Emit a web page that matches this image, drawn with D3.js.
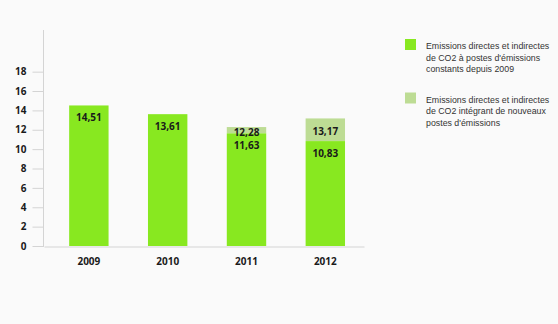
<!DOCTYPE html>
<html><head><meta charset="utf-8">
<script src="https://cdn.jsdelivr.net/npm/d3@7/dist/d3.min.js"></script>
<style>body{margin:0;background:#fafafa}svg{display:block}</style>
</head><body><svg id="c" width="558" height="324"></svg>
<script>
const years = ["2009","2010","2011","2012"];
const constantValues = [14.51, 13.61, 11.63, 10.83];
const totalValues = [null, null, 12.28, 13.17];
const yTicks = [0,2,4,6,8,10,12,14,16,18];
const legendLabels = [
  ["Emissions directes et indirectes","de CO2 à postes d'émissions","constants depuis 2009"],
  ["Emissions directes et indirectes","de CO2 intégrant de nouveaux","postes d'émissions"]
];
const colors = ["#88e820", "#bddc94"];

const svg = d3.select("#c");
svg.append("rect").attr("width",558).attr("height",324).attr("fill","#fafafa");

const x = d3.scaleBand().domain(years).range([44,364]).paddingInner(0.5).paddingOuter(0.28).align(0.57);
const y = d3.scaleLinear().domain([0,22.3]).range([246,30]);
const fmt = v => d3.format(".2f")(v).replace(".", ",");

// y axis
const ya = svg.append("g").attr("transform","translate(43.5,0)")
  .call(d3.axisLeft(y).tickValues(yTicks).tickSize(11).tickPadding(6).tickFormat(d3.format("d")));
ya.select(".domain").remove();
ya.selectAll(".tick line").attr("stroke","#d4d4d4");
ya.selectAll(".tick text").attr("font-family","Open Sans, sans-serif").attr("font-weight","bold").attr("font-size","10px").attr("fill","#1a1a1a");
svg.append("line").attr("x1",43.5).attr("x2",43.5).attr("y1",30).attr("y2",247).attr("stroke","#d4d4d4");

// bars
const data = years.map((yr,i)=>({yr, c:constantValues[i], t:totalValues[i]}));
const g = svg.append("g");
data.forEach(d=>{
  if(d.t!=null){
    g.append("rect").attr("x",x(d.yr)).attr("width",x.bandwidth())
      .attr("y",y(d.t)).attr("height",y(d.c)-y(d.t)).attr("fill",colors[1]);
  }
  g.append("rect").attr("x",x(d.yr)).attr("width",x.bandwidth())
    .attr("y",y(d.c)).attr("height",y(0)-y(d.c)).attr("fill",colors[0]);
});
data.forEach(d=>{
  if(d.t!=null){
    g.append("text").attr("x",x(d.yr)+x.bandwidth()/2).attr("y",(y(d.t)+y(d.c))/2+5.5)
      .attr("text-anchor","middle").text(fmt(d.t));
  }
  g.append("text").attr("x",x(d.yr)+x.bandwidth()/2).attr("y",y(d.c)+15.5)
    .attr("text-anchor","middle").text(fmt(d.c));
});
g.selectAll("text").attr("font-family","Open Sans, sans-serif").attr("font-weight","bold").attr("font-size","10px").attr("fill","#1a1a1a");

// x axis
const xa = svg.append("g").attr("transform","translate(0,246.5)")
  .call(d3.axisBottom(x).tickSize(0).tickPadding(11));
xa.select(".domain").attr("stroke","#d4d4d4");
xa.selectAll(".tick text").attr("font-family","Open Sans, sans-serif").attr("font-weight","bold").attr("font-size","10px").attr("fill","#1a1a1a");

// legend
const lg = svg.append("g");
legendLabels.forEach((lines,i)=>{
  const top = 39 + i*53.5;
  lg.append("rect").attr("x",405).attr("y",top).attr("width",11).attr("height",11).attr("fill",colors[i]);
  const t = lg.append("text").attr("x",426).attr("y",top+10)
    .attr("font-family","Liberation Sans, Arial, sans-serif").attr("font-size","8.8px").attr("fill","#333");
  lines.forEach((l,j)=>t.append("tspan").attr("x",426).attr("dy", j?11.5:0).text(l));
});
</script></body></html>
